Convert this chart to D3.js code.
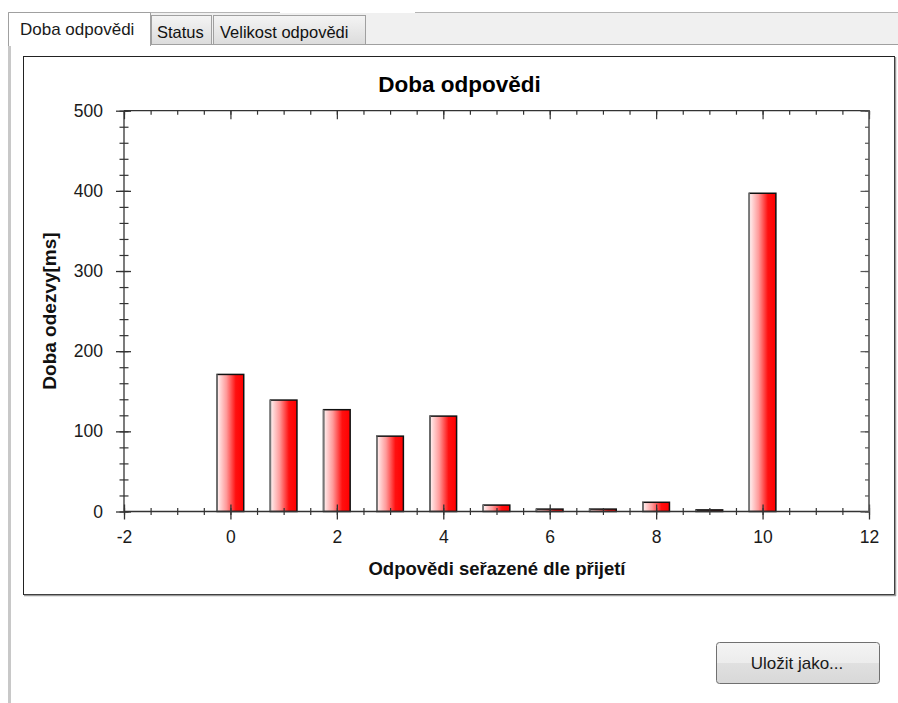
<!DOCTYPE html>
<html>
<head>
<meta charset="utf-8">
<script src="https://cdn.jsdelivr.net/npm/d3@7"></script>
<style>
  html, body { margin: 0; padding: 0; background: #ffffff; }
  svg { display: block; font-family: "Liberation Sans", Arial, sans-serif; }
</style>
</head>
<body>
<svg id="chart" width="898" height="703"></svg>
<script>
// ---- data ----
const categories = [0, 1, 2, 3, 4, 5, 6, 7, 8, 9, 10];
const values = [171, 139, 127, 94, 119, 8, 3, 3, 11.5, 2, 397];
const xTickValues = [-2, 0, 2, 4, 6, 8, 10, 12];
const yTickValues = [0, 100, 200, 300, 400, 500];
const xDomain = [-2, 12];
const yDomain = [0, 500];
const chartTitle = "Doba odpovědi";
const xTitle = "Odpovědi seřazené dle přijetí";
const yTitle = "Doba odezvy[ms]";
const tabLabels = ["Doba odpovědi", "Status", "Velikost odpovědi"];
const buttonLabel = "Uložit jako...";

const svg = d3.select("#chart");
const defs = svg.append("defs");

// gradients
const bg = defs.append("linearGradient").attr("id", "barGrad")
  .attr("x1", "0").attr("x2", "1").attr("y1", "0").attr("y2", "0");
bg.append("stop").attr("offset", "0").attr("stop-color", "#fff4f4");
bg.append("stop").attr("offset", "0.35").attr("stop-color", "#ff9a9a");
bg.append("stop").attr("offset", "0.7").attr("stop-color", "#ff1010");
bg.append("stop").attr("offset", "1").attr("stop-color", "#ff0000");

const tg = defs.append("linearGradient").attr("id", "tabGrad")
  .attr("x1", "0").attr("x2", "0").attr("y1", "0").attr("y2", "1");
tg.append("stop").attr("offset", "0").attr("stop-color", "#f4f4f4");
tg.append("stop").attr("offset", "1").attr("stop-color", "#dcdcdc");

const btg = defs.append("linearGradient").attr("id", "btnGrad")
  .attr("x1", "0").attr("x2", "0").attr("y1", "0").attr("y2", "1");
btg.append("stop").attr("offset", "0").attr("stop-color", "#f4f4f4");
btg.append("stop").attr("offset", "0.5").attr("stop-color", "#ececec");
btg.append("stop").attr("offset", "0.5").attr("stop-color", "#e0e0e0");
btg.append("stop").attr("offset", "1").attr("stop-color", "#d8d8d8");

// ---- window chrome: tab strip ----
const chrome = svg.append("g");
chrome.append("line").attr("x1", 8).attr("x2", 280).attr("y1", 12.5).attr("y2", 12.5)
  .attr("stroke", "#b4b4b4");
chrome.append("line").attr("x1", 415).attr("x2", 898).attr("y1", 12.5).attr("y2", 12.5)
  .attr("stroke", "#b4b4b4");
chrome.append("rect").attr("x", 150).attr("y", 13).attr("width", 748).attr("height", 31)
  .attr("fill", "#f0f0f0");
chrome.append("line").attr("x1", 150).attr("x2", 898).attr("y1", 44.5).attr("y2", 44.5)
  .attr("stroke", "#a0a0a0");
// panel left border
chrome.append("line").attr("x1", 9.5).attr("x2", 9.5).attr("y1", 13).attr("y2", 703)
  .attr("stroke", "#c8c8c8").attr("stroke-width", 3);

// active tab
chrome.append("path").attr("d", "M8.5,46 V12.5 H150.5 V46")
  .attr("fill", "#ffffff").attr("stroke", "#a0a0a0");
chrome.append("rect").attr("x", 11).attr("y", 13).attr("width", 139).attr("height", 33).attr("fill", "#fff");
chrome.append("text").attr("x", 20).attr("y", 35).attr("font-size", 17).attr("fill", "#1a1a1a")
  .text(tabLabels[0]);
// inactive tabs
const inTabs = [{x: 151, w: 60, label: tabLabels[1], tx: 157}, {x: 213, w: 152, label: tabLabels[2], tx: 220}];
inTabs.forEach(t => {
  chrome.append("rect").attr("x", t.x + 0.5).attr("y", 15.5).attr("width", t.w).attr("height", 29)
    .attr("fill", "url(#tabGrad)").attr("stroke", "#a0a0a0");
  chrome.append("text").attr("x", t.tx).attr("y", 38).attr("font-size", 16.5).attr("fill", "#111")
    .text(t.label);
});

// ---- chart frame ----
svg.append("rect").attr("x", 23.5).attr("y", 56.5).attr("width", 871).attr("height", 538)
  .attr("fill", "#ffffff").attr("stroke", "#222").attr("stroke-width", 1);
svg.append("line").attr("x1", 895.5).attr("x2", 895.5).attr("y1", 57).attr("y2", 596)
  .attr("stroke", "#9a9a9a").attr("stroke-width", 1.5);
svg.append("line").attr("x1", 24).attr("x2", 896).attr("y1", 595.5).attr("y2", 595.5)
  .attr("stroke", "#9a9a9a").attr("stroke-width", 1.5);

// ---- scales ----
const x = d3.scaleLinear().domain(xDomain).range([124, 869]);
const y = d3.scaleLinear().domain(yDomain).range([511.5, 110.7]);
const barW = x(0.5) - x(0);

// title
svg.append("text").attr("x", 459.5).attr("y", 91.5).attr("text-anchor", "middle")
  .attr("font-size", 22.5).attr("font-weight", "bold").attr("fill", "#000").text(chartTitle);

// bars
const bars = svg.append("g");
bars.selectAll("rect").data(categories).join("rect")
  .attr("x", (d) => x(d) - barW / 2)
  .attr("y", (d, i) => y(values[i]))
  .attr("width", barW)
  .attr("height", (d, i) => y(0) - y(values[i]))
  .attr("fill", "url(#barGrad)")
  .attr("stroke", "#111")
  .attr("stroke-width", 1.5);
bars.selectAll("line").data(categories).join("line")
  .attr("x1", (d) => x(d) - barW / 2).attr("x2", (d) => x(d) - barW / 2)
  .attr("y1", (d, i) => y(values[i])).attr("y2", y(0))
  .attr("stroke", "#777").attr("stroke-width", 1.5);

// ---- axes ----
const axisColor = "#333";
const xMinor = x.ticks(28);
const yMinor = y.ticks(25);

function style(g, color) {
  g.select(".domain").remove();
  g.selectAll("line").attr("stroke", color).attr("stroke-width", 1.2);
  g.selectAll("text").remove();
}

// bottom minor
svg.append("g").attr("transform", `translate(0,${y(0)})`)
  .call(d3.axisBottom(x).tickValues(xMinor).tickSize(0))
  .call(g => { style(g, axisColor); g.selectAll("line").attr("y1", -3.5).attr("y2", 3.5); });
// bottom major
const xAxisG = svg.append("g").attr("transform", `translate(0,${y(0)})`)
  .call(d3.axisBottom(x).tickValues(xTickValues).tickSize(0).tickPadding(19).tickFormat(d => String(d)));
xAxisG.select(".domain").remove();
xAxisG.selectAll("line").attr("stroke", axisColor).attr("stroke-width", 1.3).attr("y1", -7).attr("y2", 8);
xAxisG.selectAll("text").attr("font-size", 17.5).attr("fill", "#1a1a1a")
  .attr("font-family", "Liberation Sans, Arial, sans-serif");
svg.append("line").attr("x1", x(xDomain[0])).attr("x2", x(xDomain[1]))
  .attr("y1", y(0)).attr("y2", y(0)).attr("stroke", axisColor).attr("stroke-width", 1.3);

// top minor + major
svg.append("g").attr("transform", `translate(0,${y(500)})`)
  .call(d3.axisTop(x).tickValues(xMinor).tickSize(-4))
  .call(g => style(g, axisColor));
svg.append("g").attr("transform", `translate(0,${y(500)})`)
  .call(d3.axisTop(x).tickValues(xTickValues).tickSize(-8.5))
  .call(g => style(g, axisColor));
svg.append("line").attr("x1", x(xDomain[0])).attr("x2", x(xDomain[1]))
  .attr("y1", y(500)).attr("y2", y(500)).attr("stroke", axisColor).attr("stroke-width", 1.3);

// left minor
svg.append("g").attr("transform", `translate(${x(-2)},0)`)
  .call(d3.axisLeft(y).tickValues(yMinor).tickSize(0))
  .call(g => { style(g, axisColor); g.selectAll("line").attr("x1", -4.5).attr("x2", 4.5); });
// left major
const yAxisG = svg.append("g").attr("transform", `translate(${x(-2)},0)`)
  .call(d3.axisLeft(y).tickValues(yTickValues).tickSize(0).tickPadding(21));
yAxisG.select(".domain").remove();
yAxisG.selectAll("line").attr("stroke", axisColor).attr("stroke-width", 1.3).attr("x1", -8).attr("x2", 7);
yAxisG.selectAll("text").attr("font-size", 17.5).attr("fill", "#1a1a1a")
  .attr("font-family", "Liberation Sans, Arial, sans-serif");
svg.append("line").attr("x1", x(-2)).attr("x2", x(-2))
  .attr("y1", y(0)).attr("y2", y(500)).attr("stroke", axisColor).attr("stroke-width", 1.3);

// right minor + major (inward)
svg.append("g").attr("transform", `translate(${x(12)},0)`)
  .call(d3.axisRight(y).tickValues(yMinor).tickSize(-4))
  .call(g => style(g, "#555"));
svg.append("g").attr("transform", `translate(${x(12)},0)`)
  .call(d3.axisRight(y).tickValues(yTickValues).tickSize(-8.5))
  .call(g => style(g, "#555"));
svg.append("line").attr("x1", x(12)).attr("x2", x(12))
  .attr("y1", y(0) + 0.7).attr("y2", y(500) - 0.7).attr("stroke", "#555").attr("stroke-width", 1.6);

// axis titles
svg.append("text").attr("x", 497).attr("y", 575).attr("text-anchor", "middle")
  .attr("font-size", 18.5).attr("font-weight", "bold").attr("fill", "#111").text(xTitle);
svg.append("text").attr("transform", "translate(56,311) rotate(-90)").attr("text-anchor", "middle")
  .attr("font-size", 19).attr("font-weight", "bold").attr("fill", "#111").text(yTitle);

// ---- button ----
svg.append("rect").attr("x", 716.5).attr("y", 642.5).attr("width", 163).attr("height", 41).attr("rx", 3)
  .attr("fill", "url(#btnGrad)").attr("stroke", "#707070");
svg.append("text").attr("x", 797).attr("y", 669).attr("text-anchor", "middle")
  .attr("font-size", 17).attr("fill", "#1a1a1a").text(buttonLabel);
</script>
</body>
</html>
